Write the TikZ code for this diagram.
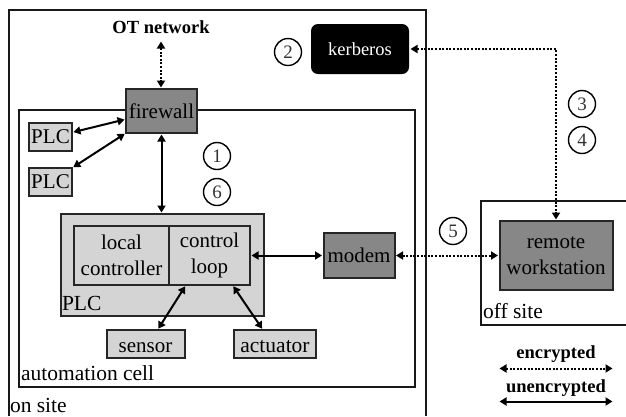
\documentclass[tikz,border=0pt]{standalone}
\usepackage{fontspec}
\setmainfont{Liberation Serif}
\usetikzlibrary{arrows.meta,calc}
\newcommand{\fs}[1]{\fontsize{#1pt}{#1pt}\selectfont}
\tikzset{
  box/.style={draw=black!85,line width=2pt,inner sep=0pt,outer sep=0pt,align=center,font=\fs{21}},
  lightbox/.style={box,fill=black!17},
  darkbox/.style={box,fill=black!47},
  frame/.style={draw=black!90,line width=2pt,inner sep=0pt,outer sep=0pt},
  lbl/.style={inner sep=0pt,outer sep=0pt,anchor=west,font=\fs{21.5}},
  num/.style={circle,draw=black,line width=1.4pt,minimum size=27pt,inner sep=0pt,font=\fs{19},text=black!80},
  legendlbl/.style={inner sep=0pt,font=\bfseries\fs{18.5}},
  link/.style={{Triangle[length=7pt,width=8pt]}-{Triangle[length=7pt,width=8pt]},line width=2pt,black,shorten <=1.5pt,shorten >=1.5pt},
  dots/.style={link,dash pattern=on 2pt off 1.6pt}
}
\begin{document}
\begin{tikzpicture}[x=1pt,y=-1pt]
\useasboundingbox (0,0) rectangle (626,416);
% on site frame
\draw[frame] (8.5,416) -- (8.5,10) -- (426,10) -- (426,416);
% automation cell
\node[frame,minimum width=396pt,minimum height=277pt] (cell) at (217,248.5) {};
% off site frame
\draw[frame] (626,200.5) -- (481,200.5) -- (481,324.5) -- (626,324.5);
% PLC group
\node[box,line width=1.6pt,fill=black!17,minimum width=203pt,minimum height=102pt] (plcgroup) at (162.5,265) {};
\node[lightbox,minimum width=95pt,minimum height=59pt] (local) at (121.5,255.5) {local\\[5pt]controller};
\node[lightbox,minimum width=81pt,minimum height=59pt] (loop) at (209.5,255.5) {control\\[5pt]loop};
% other boxes
\node[darkbox,minimum width=71pt,minimum height=44pt] (firewall) at (161.5,111) {firewall};
\node[lightbox,minimum width=43pt,minimum height=28pt] (plca) at (50.5,137) {PLC};
\node[lightbox,minimum width=43pt,minimum height=28pt] (plcb) at (50.5,182) {PLC};
\node[darkbox,minimum width=71pt,minimum height=45pt] (modem) at (359,255.5) {modem};
\node[darkbox,minimum width=113pt,minimum height=69pt] (remote) at (556,255.5) {remote\\[5pt]workstation};
\node[lightbox,minimum width=78pt,minimum height=28pt,font=\fs{21},text height=18pt,text depth=2pt] (sensor) at (145.5,344) {sensor};
\node[lightbox,minimum width=82pt,minimum height=28pt,font=\fs{21.5},text height=18pt,text depth=2pt] (actuator) at (275,344) {actuator};
\node[fill=black,rounded corners=7pt,text=white,minimum width=98pt,minimum height=50pt,inner sep=0pt,outer sep=0pt,font=\fs{18.5}] (kerberos) at (360,49) {kerberos};
% labels
\node[inner sep=0pt,font=\bfseries\fs{18.5}] (ot) at (161,27.5) {OT network};
\node[lbl] (plclbl) at (62,303) {PLC};
\node[lbl] (celllbl) at (21,373) {automation cell};
\node[lbl] (sitelbl) at (10,405) {on site};
\node[lbl] (offlbl) at (483,311) {off site};
% numbers
\node[num] (n1) at (217,156) {1};
\node[num] (n6) at (217,192) {6};
\node[num] (n2) at (288,52) {2};
\node[num] (n3) at (582,104) {3};
\node[num] (n4) at (582,140) {4};
\node[num] (n5) at (453,231) {5};
% legend
\node[legendlbl] (enc) at (556,354) {encrypted};
\coordinate (encl) at (498,368.5);
\coordinate (encr) at (614,368.5);
\node[legendlbl] (unenc) at (556,388) {unencrypted};
\coordinate (unl) at (498,401.5);
\coordinate (unr) at (614,401.5);
\draw[dots] (encl) -- (encr);
\draw[link] (unl) -- (unr);
% connectors
\coordinate (otend) at (161,40);
\draw[dots] (otend) -- (firewall.north -| otend);
\draw[link] (firewall.south) -- (plcgroup.north -| firewall.south);
\draw[link] (plca.12) -- (firewall.193);
\draw[link] (plcb.north east) -- (firewall.south west);
\draw[link] (loop.east) -- (modem.west);
\draw[dots] (modem.east) -- (remote.west);
\coordinate (sa) at ($(sensor.north)+(12,0)$);
\coordinate (la) at ($(loop.south west)+(17,0)$);
\draw[link] (sa) -- (la);
\coordinate (lb) at ($(loop.south)+(23,0)$);
\coordinate (ac) at ($(actuator.north)+(-12,0)$);
\draw[link] (ac) -- (lb);
\draw[dots] (kerberos.east) -- (remote.north |- kerberos.east) -- (remote.north);
\end{tikzpicture}
\end{document}
